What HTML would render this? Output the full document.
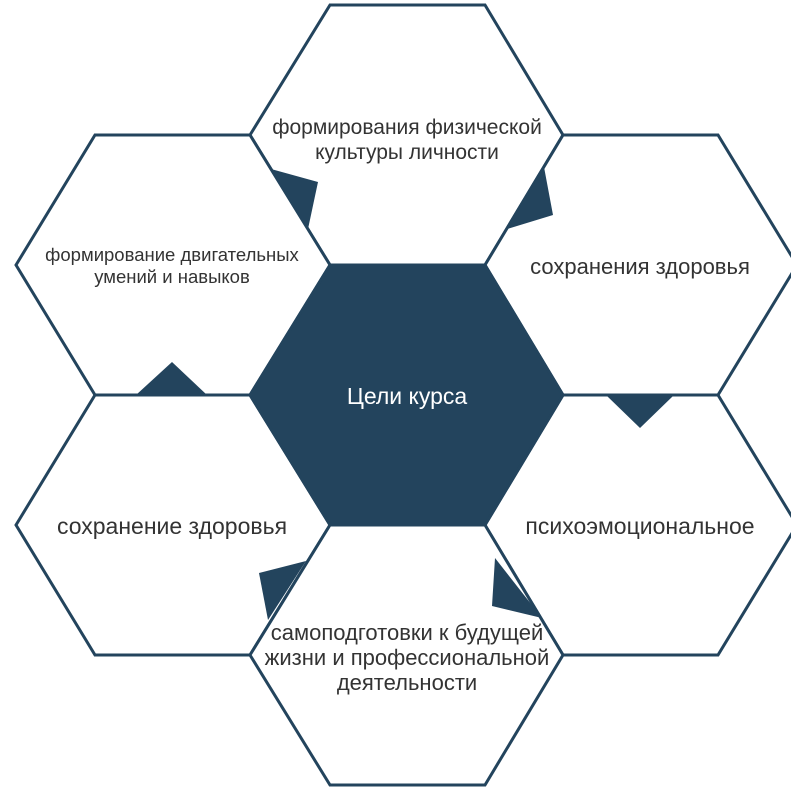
<!DOCTYPE html>
<html><head><meta charset="utf-8"><style>
html,body{margin:0;padding:0;background:#fff;}
svg{display:block;}
text{font-family:"Liberation Sans",sans-serif;fill:#333;}
</style></head><body>
<svg width="791" height="791" viewBox="0 0 791 791" xmlns="http://www.w3.org/2000/svg">
<g fill="#fff" stroke="#23445d" stroke-width="3" stroke-linejoin="miter">
<polygon points="250,135 330,5 485,5 563,135 485,265 330,265"/>
<polygon points="16,265 95,135 250,135 330,265 250,395 95,395"/>
<polygon points="485,265 563,135 718,135 797,265 718,395 563,395"/>
<polygon points="16,525 95,395 250,395 330,525 250,655 95,655"/>
<polygon points="485,525 563,395 718,395 797,525 718,655 563,655"/>
<polygon points="250,655 330,525 485,525 563,655 485,785 330,785"/>
</g>
<polygon points="250,395 330,265 485,265 563,395 485,525 330,525" fill="#23445d" stroke="#23445d" stroke-width="3"/>
<g fill="#23445d">
<polygon points="271,169 318,182 308,229"/>
<polygon points="544,167 553,215 507,229"/>
<polygon points="607,396 673,396 640,428"/>
<polygon points="495,558 542,618 492,606"/>
<polygon points="259,573 306,561 268,620"/>
<polygon points="136,395 172,362 207,395"/>
</g>
<text x="407" y="134" font-size="21" text-anchor="middle">формирования физической</text>
<text x="407" y="159" font-size="21" text-anchor="middle">культуры личности</text>
<text x="172" y="261" font-size="18.5" text-anchor="middle">формирование двигательных</text>
<text x="172" y="283" font-size="18.5" text-anchor="middle">умений и навыков</text>
<text x="640" y="274" font-size="22" text-anchor="middle">сохранения здоровья</text>
<text x="407" y="404" font-size="23" text-anchor="middle" style="fill:#fff">Цели курса</text>
<text x="172" y="534" font-size="23" text-anchor="middle">сохранение здоровья</text>
<text x="640" y="534" font-size="23" text-anchor="middle">психоэмоциональное</text>
<text x="407" y="640" font-size="22" text-anchor="middle">самоподготовки к будущей</text>
<text x="407" y="665" font-size="22" text-anchor="middle">жизни и профессиональной</text>
<text x="407" y="690" font-size="22" text-anchor="middle">деятельности</text>
</svg>
</body></html>
